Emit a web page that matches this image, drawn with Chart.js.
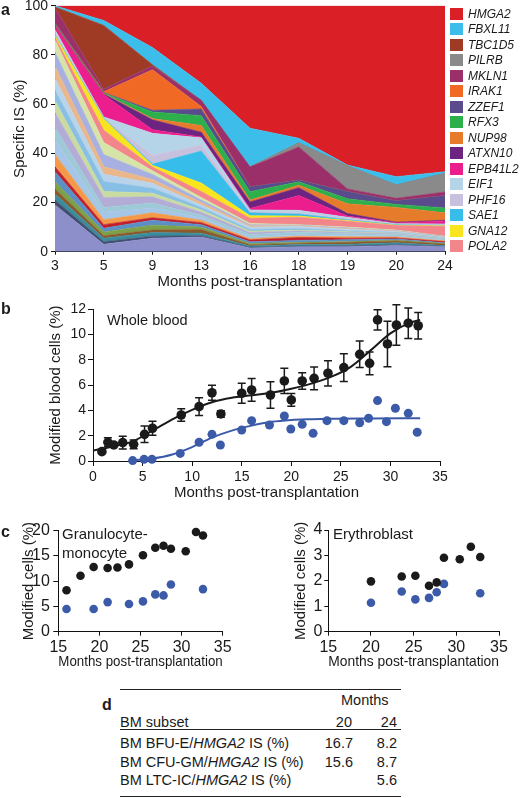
<!DOCTYPE html>
<html><head><meta charset="utf-8">
<script src="https://cdn.jsdelivr.net/npm/chart.js@4.4.1/dist/chart.umd.min.js"></script>
<style>
html,body{margin:0;padding:0;background:#fff;width:520px;height:798px;overflow:hidden;}
body{position:relative;font-family:"Liberation Sans",Arial,Helvetica,sans-serif;color:#1a1a1a;}
canvas{position:absolute;}
.t{position:absolute;white-space:nowrap;line-height:1;}
.pl{position:absolute;font-weight:bold;font-size:16px;line-height:1;}
.rule{position:absolute;left:120px;width:281px;height:1px;background:#222;}
.tb{position:absolute;font-size:14.5px;line-height:1;white-space:nowrap;}
.lg{position:absolute;left:450px;width:13px;height:12px;}
.lt{position:absolute;left:468px;font-size:12px;font-style:italic;line-height:1;white-space:nowrap;}
</style></head><body>

<canvas id="cA" width="459" height="299" style="left:0px;top:-8px"></canvas>
<canvas id="cB" width="454" height="207" style="left:0px;top:295px"></canvas>
<canvas id="cC1" width="237" height="155" style="left:0px;top:516px"></canvas>
<canvas id="cC2" width="245" height="155" style="left:268px;top:516px"></canvas>
<div id="legendA"></div>

<div class="pl" style="left:1px;top:2px">a</div>
<div class="pl" style="left:1px;top:301px">b</div>
<div class="pl" style="left:1px;top:524px">c</div>
<div class="pl" style="left:102px;top:697px">d</div>

<div class="t" style="left:107px;top:313px;font-size:14.5px">Whole blood</div>
<div class="t" style="left:62px;top:526px;font-size:15px">Granulocyte-</div>
<div class="t" style="left:62px;top:545px;font-size:15px">monocyte</div>
<div class="t" style="left:333px;top:526px;font-size:15px">Erythroblast</div>

<div class="rule" style="top:689px"></div>
<div class="tb" style="left:341px;top:693px">Months</div>
<div class="tb" style="left:120px;top:715px">BM subset</div>
<div class="tb" style="right:168px;top:715px">20</div>
<div class="tb" style="right:123px;top:715px">24</div>
<div class="rule" style="top:729px"></div>
<div class="tb" style="left:120px;top:736px">BM BFU-E/<i>HMGA2</i> IS (%)</div>
<div class="tb" style="right:167px;top:736px">16.7</div>
<div class="tb" style="right:123px;top:736px">8.2</div>
<div class="tb" style="left:120px;top:754.5px">BM CFU-GM/<i>HMGA2</i> IS (%)</div>
<div class="tb" style="right:167px;top:754.5px">15.6</div>
<div class="tb" style="right:123px;top:754.5px">8.7</div>
<div class="tb" style="left:120px;top:773px">BM LTC-IC/<i>HMGA2</i> IS (%)</div>
<div class="tb" style="right:123px;top:773px">5.6</div>
<div class="rule" style="top:796px"></div>

<script>
// ---------------- Panel a data (clone contributions, %) ----------------
const monthsA = ['3','5','9','13','16','18','19','20','24'];
const HMGA2   = [0, 6, 17, 31.5, 49.8, 53.9, 64.8, 69.5, 67.5];
const FBXL11  = [0.5, 2, 7, 7, 15.8, 1.9, 0.3, 3.4, 0.7];
const TBC1D5  = [0.5, 26, 0.5, 0, 0, 0, 0, 0, 0];
const PILRB   = [0, 0, 0, 0, 0, 1.6, 9.4, 5.4, 7.5];
const MKLN1   = [6, 1, 1.5, 2.5, 8, 13.5, 1, 1, 1.5];
const IRAK1   = [0, 0.3, 16.5, 1, 0, 0, 0, 0, 0];
const ZZEF1   = [0.5, 0.2, 0.7, 2.7, 2, 0.7, 3, 1.5, 5];
const RFX3    = [0.2, 0.2, 2.7, 4, 3.4, 1.4, 2, 1.2, 2];
const NUP98   = [0.3, 0.2, 0.5, 2.7, 0.8, 1, 4, 6, 3];
const ATXN10  = [0.3, 0.3, 4, 2, 2.6, 3.2, 1, 0.3, 0.3];
const EPB41L2 = [1.5, 9, 1.5, 0.3, 0.6, 6, 0.5, 0.3, 1.2];
const EIF1    = [1, 0.3, 9, 3, 0.8, 1, 0.5, 0.2, 0.3];
const PHF16   = [1, 0.3, 3.5, 2.4, 0.4, 0.5, 0.5, 0.2, 0.3];
const SAE1    = [0.3, 0.3, 0.5, 13, 1.2, 0.8, 0.3, 0.2, 0.2];
const GNA12   = [0.8, 4.5, 0.7, 3.4, 1, 0.5, 0.3, 0.2, 0.2];
const POLA2   = [1, 5, 1.5, 2.5, 2.1, 3, 2.4, 1.8, 4];
// unlabelled clones, bottom to top
const cloneBase = [19, 3, 5.5, 6, 1.5, 2, 2, 2.5, 2];
const clone01 = [2, 1, 0.8, 0.5, 0.3, 0.3, 0.4, 0.3, 0.2];
const clone02 = [2.5, 1.5, 1.5, 1, 0.5, 0.6, 0.6, 0.8, 0.3];
const clone03 = [2, 1, 1, 1.5, 0.5, 0.5, 0.8, 0.8, 0.6];
const clone04 = [3, 1.5, 2, 1, 0.5, 0.4, 0.3, 0.3, 0.2];
const clone05 = [4, 1.5, 2, 1, 0.7, 0.8, 0.8, 0.5, 0.3];
const clone06 = [2, 1.5, 1, 0.8, 0.8, 1.2, 0.6, 0.4, 0.5];
const clone07 = [5, 2, 2, 1, 0.5, 0.5, 0.6, 0.4, 0.3];
const clone08 = [6, 3, 2, 1, 0.7, 0.6, 0.5, 0.4, 0.3];
const clone09 = [5, 2, 2, 1, 1, 1, 0.8, 0.6, 0.4];
const clone10 = [6, 4, 2.5, 1.2, 0.8, 0.5, 0.4, 0.3, 0.2];
const clone11 = [5, 2.5, 1.5, 1, 0.5, 0.4, 0.3, 0.2, 0.2];
const clone12 = [4, 4, 2, 1, 0.7, 0.6, 0.4, 0.3, 0.2];
const clone13 = [5, 3, 2, 1, 1, 0.8, 0.6, 0.4, 0.2];
const clone14 = [5, 3, 1.6, 1, 0.5, 0.3, 0.3, 0.2, 0.1];
const clone15 = [5.6, 5, 2, 1, 0.5, 0.3, 0.3, 0.2, 0.2];
const clone16 = [5, 4.9, 1.5, 1, 0.5, 0.2, 0.3, 0.2, 0.1];

// ---------------- Panel b data ----------------
const wbMonthsIS = [0.9,1.5,2.1,3.0,4.1,5.2,6.0,8.9,10.7,12.0,12.9,15.0,16.0,17.9,19.3,20.0,21.1,22.3,23.7,25.3,26.9,27.9,28.7,29.7,30.6,31.8,32.8];
const wbValuesIS = [0.74,1.48,1.27,1.45,1.32,2.11,2.59,3.64,4.3,5.4,3.72,5.36,5.62,5.22,6.33,4.83,6.33,6.54,6.94,7.39,8.44,7.73,11.16,9.26,10.76,10.9,10.7];
const wbErrorsIS = [0.12,0.35,0.12,0.5,0.35,0.65,0.55,0.5,0.7,0.6,0.25,0.8,0.9,1.05,1.0,0.5,0.65,0.9,1.0,1.1,1.05,0.9,0.8,1.8,1.6,1.2,1.05];
const wbMonthsH  = [4.0,5.15,5.95,8.8,10.7,12.0,12.85,15.0,16.0,17.8,19.3,19.95,21.1,22.2,23.6,25.3,26.9,27.8,28.7,29.6,30.5,31.8,32.7];
const wbValuesH  = [0.03,0.13,0.13,0.6,1.48,2.11,1.27,2.45,3.19,2.85,3.56,2.53,2.9,2.19,3.19,3.19,3.03,3.38,4.78,3.11,4.17,3.77,2.27];
const fitMonthsIS = [0,2,4,6,8,10,12,14,16,18,20,22,24,26,28,30,32,33];
const fitValuesIS = [0.82,1.15,1.55,2.4,3.3,4.05,4.65,5.0,5.2,5.4,5.72,6.12,6.65,7.45,8.75,10.1,10.95,11.15];
const fitMonthsH  = [4,6,8,10,12,14,16,18,20,22,24,28,33];
const fitValuesH  = [0.06,0.2,0.52,1.1,1.85,2.4,2.8,3.1,3.25,3.31,3.35,3.37,3.38];

// ---------------- Panel c data ----------------
const gmMonthsIS = [16.0,17.7,19.3,21.0,22.2,23.6,25.3,26.8,27.8,28.7,30.5,31.75,32.6];
const gmValuesIS = [8.2,11.05,12.8,12.6,12.7,13.3,15.1,16.6,17.0,16.4,15.9,19.7,19.0];
const gmMonthsH  = [16.0,19.3,21.0,23.6,25.3,26.8,27.8,28.7,32.6];
const gmValuesH  = [4.5,4.5,5.85,5.46,5.99,7.37,7.17,9.34,8.42];
const erMonthsIS = [20.0,23.6,25.2,26.8,27.7,28.55,30.4,31.7,32.8];
const erValuesIS = [1.98,2.17,2.2,1.81,1.94,2.91,2.85,3.34,2.94];
const erMonthsH  = [20.0,23.6,25.2,26.8,27.7,28.55,32.8];
const erValuesH  = [1.14,1.58,1.27,1.33,1.55,1.88,1.51];

// tick labels
const ticksA_Y = [0,20,40,60,80,100];
const ticksB_X = [0,5,10,15,20,25,30,35];
const ticksB_Y = [0,2,4,6,8,10,12];

// ---------------- styles ----------------
const FONT = '"Liberation Sans", Arial, Helvetica, sans-serif';
const INK = '#1a1a1a';
const BLUE = '#3b5ba9';
const geneColors = {
  HMGA2:'#da1f27', FBXL11:'#3dbde9', TBC1D5:'#9f3a24', PILRB:'#8a8a8a', MKLN1:'#9b2f69',
  IRAK1:'#f06a25', ZZEF1:'#5a4b8c', RFX3:'#2db04b', NUP98:'#e67b2c', ATXN10:'#6c2480',
  EPB41L2:'#ec1d8d', EIF1:'#b6d4e8', PHF16:'#c7c1dd', SAE1:'#36bdea', GNA12:'#f8e41f', POLA2:'#f2868a'
};
const cloneColors = ['#3f4f70','#3a8c9c','#8b5a2b','#7da04a','#5b8fc6','#c0202e','#f39a4a','#a5c6e6',
  '#9ec9d6','#b3acd6','#c9dba0','#88bfe5','#b9d3ea','#e9b78a','#a7b0e0','#d7e4a8'];

const geneSeries = {HMGA2,FBXL11,TBC1D5,PILRB,MKLN1,IRAK1,ZZEF1,RFX3,NUP98,ATXN10,EPB41L2,EIF1,PHF16,SAE1,GNA12,POLA2};
const legendOrder = ['HMGA2','FBXL11','TBC1D5','PILRB','MKLN1','IRAK1','ZZEF1','RFX3','NUP98','ATXN10','EPB41L2','EIF1','PHF16','SAE1','GNA12','POLA2'];
const clones = [clone01,clone02,clone03,clone04,clone05,clone06,clone07,clone08,clone09,clone10,clone11,clone12,clone13,clone14,clone15,clone16];

Chart.defaults.font.family = FONT;
Chart.defaults.color = INK;
Chart.defaults.animation = false;
Chart.defaults.plugins.legend.display = false;
Chart.defaults.plugins.tooltip.enabled = false;

function gridOpt(tl){ return {drawOnChartArea:false, drawTicks:true, tickLength:tl, color:'#111', lineWidth:1}; }
const borderOpt = {display:true, color:'#111', width:1};

// ---------------- Panel a ----------------
const layers = [{name:'base', data:cloneBase, color:'#8d8fcb'}];
clones.forEach((c,i)=>layers.push({name:'clone'+(i+1), data:c, color:cloneColors[i]}));
legendOrder.slice().reverse().forEach(g=>layers.push({name:g, data:geneSeries[g], color:geneColors[g]}));

new Chart(document.getElementById('cA'), {
  type:'line',
  data:{ labels:monthsA, datasets: layers.map((L,i)=>({
    label:L.name, data:L.data, backgroundColor:L.color, borderColor:L.color, borderWidth:0.6,
    pointRadius:0, fill: i===0 ? 'origin' : '-1', tension:0 })) },
  options:{
    responsive:false, devicePixelRatio:1,
    layout:{padding:{left:0, top:13.7, right:14, bottom:0}},
    scales:{
      x:{ type:'category', offset:false, z:1, grid:gridOpt(3), border:borderOpt,
          ticks:{font:{size:14}, padding:3, maxRotation:0, autoSkip:false, color:INK},
          title:{display:true, text:'Months post-transplantation', font:{size:15}, padding:{top:0,bottom:0}, color:INK},
          afterFit:s=>{s.height=39.3;} },
      y:{ stacked:true, min:0, max:100, z:1, grid:gridOpt(4), border:borderOpt,
          afterBuildTicks:s=>{ s.ticks = ticksA_Y.map(v=>({value:v})); },
          ticks:{font:{size:14}, padding:3, color:INK},
          title:{display:true, text:'Specific IS (%)', font:{size:15}, padding:{top:10.7,bottom:0}, color:INK},
          afterFit:s=>{s.width=55;} }
    }
  }
});

// legend
const lg = document.getElementById('legendA');
legendOrder.forEach((g,i)=>{
  const cy = 13.8 + i*15.51;
  const sq = document.createElement('div'); sq.className='lg';
  sq.style.top = (cy-6)+'px'; sq.style.background = geneColors[g]; lg.appendChild(sq);
  const t = document.createElement('div'); t.className='lt';
  t.style.top = (cy-6)+'px'; t.textContent = g; lg.appendChild(t);
});

// ---------------- error bar plugin ----------------
const errorBars = {
  id:'errorBars',
  beforeDatasetsDraw(chart){
    const {ctx, scales:{x,y}} = chart;
    chart.data.datasets.forEach(d=>{
      if(!d.errors) return;
      ctx.save(); ctx.strokeStyle = d.backgroundColor; ctx.lineWidth = 1.5;
      d.data.forEach((p,j)=>{
        const e = d.errors[j];
        const px = x.getPixelForValue(p.x);
        const t = y.getPixelForValue(p.y+e), b = y.getPixelForValue(p.y-e);
        ctx.beginPath();
        ctx.moveTo(px,t); ctx.lineTo(px,b);
        ctx.moveTo(px-4,t); ctx.lineTo(px+4,t);
        ctx.moveTo(px-4,b); ctx.lineTo(px+4,b);
        ctx.stroke();
      });
      ctx.restore();
    });
  }
};

function pts(xs, ys){ return xs.map((v,i)=>({x:v, y:ys[i]})); }

// ---------------- Panel b ----------------
new Chart(document.getElementById('cB'), {
  type:'scatter',
  data:{ datasets:[
    {label:'IS', data:pts(wbMonthsIS, wbValuesIS), errors:wbErrorsIS, backgroundColor:INK, pointRadius:4.8, borderWidth:0, clip:false},
    {label:'HMGA2', data:pts(wbMonthsH, wbValuesH), backgroundColor:BLUE, pointRadius:4.5, borderWidth:0, clip:false},
    {type:'line', label:'fit IS', data:pts(fitMonthsIS, fitValuesIS), borderColor:INK, borderWidth:2, pointRadius:0, tension:0.4, cubicInterpolationMode:'monotone', fill:false, clip:false},
    {type:'line', label:'fit H', data:pts(fitMonthsH, fitValuesH), borderColor:BLUE, borderWidth:2, pointRadius:0, tension:0.4, cubicInterpolationMode:'monotone', fill:false, clip:false}
  ]},
  options:{
    responsive:false, devicePixelRatio:1,
    layout:{padding:{left:0, top:14.3, right:14, bottom:0}},
    scales:{
      x:{ type:'linear', min:0, max:35, grid:gridOpt(5), border:borderOpt,
          afterBuildTicks:s=>{ s.ticks = ticksB_X.map(v=>({value:v})); },
          ticks:{font:{size:14}, padding:3, color:INK},
          title:{display:true, text:'Months post-transplantation', font:{size:15}, padding:{top:0,bottom:0}, color:INK},
          afterFit:s=>{s.height=41;} },
      y:{ type:'linear', min:0, max:12, grid:gridOpt(5), border:borderOpt,
          afterBuildTicks:s=>{ s.ticks = ticksB_Y.map(v=>({value:v})); },
          ticks:{font:{size:14}, padding:2, color:INK},
          title:{display:true, text:'Modified blood cells (%)', font:{size:15}, padding:{top:46.7,bottom:0}, color:INK},
          afterFit:s=>{s.width=93;} }
    }
  },
  plugins:[errorBars]
});

// ---------------- Panel c ----------------
function panelC(id, isX, isY, hX, hY, yMax, yStep, yWidth, yTitlePad, yTickPad, yTl, padR){
  new Chart(document.getElementById(id), {
    type:'scatter',
    data:{ datasets:[
      {label:'IS', data:pts(isX, isY), backgroundColor:INK, pointRadius:4.3, borderWidth:0, clip:false},
      {label:'HMGA2', data:pts(hX, hY), backgroundColor:BLUE, pointRadius:4.3, borderWidth:0, clip:false}
    ]},
    options:{
      responsive:false, devicePixelRatio:1,
      layout:{padding:{left:0, top:(id==='cC1'?14.5:14), right:padR, bottom:0}},
      scales:{
        x:{ type:'linear', min:15, max:35, grid:gridOpt(4), border:borderOpt,
            ticks:{stepSize:5, font:{size:16}, padding:2, color:INK},
            title:{display:true, text:'Months post-transplantation', font:{size:15}, padding:{top:0,bottom:0.5}, color:INK},
            afterFit:s=>{s.height=39.3;} },
        y:{ type:'linear', min:0, max:yMax, grid:gridOpt(yTl), border:borderOpt,
            ticks:{stepSize:yStep, font:{size:16}, padding:yTickPad, color:INK},
            title:{display:true, text:'Modified cells (%)', font:{size:15}, padding:{top:yTitlePad,bottom:0}, color:INK},
            afterFit:s=>{s.width=yWidth;} }
      }
    }
  });
}
panelC('cC1', gmMonthsIS, gmValuesIS, gmMonthsH, gmValuesH, 20, 5, 58.3, 20, 3.5, 5, 14.3);
panelC('cC2', erMonthsIS, erValuesIS, erMonthsH, erValuesH, 4, 1, 60.3, 23.7, 2, 4, 14);
</script>
</body></html>
